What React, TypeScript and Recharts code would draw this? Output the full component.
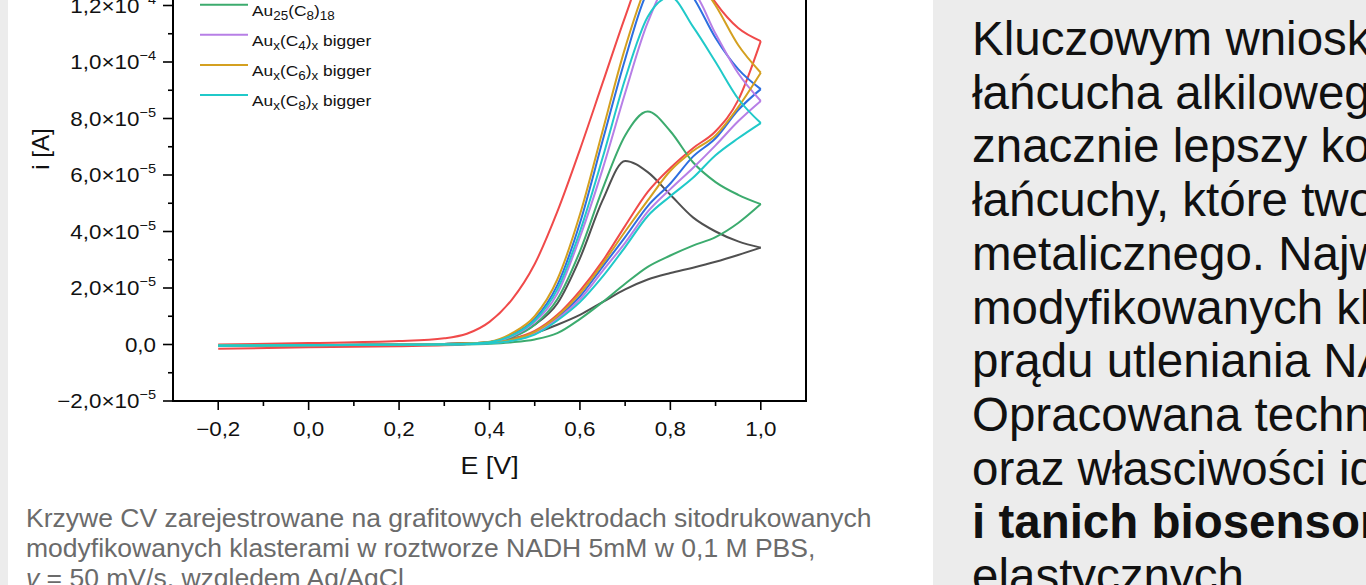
import React from "react";
import { LineChart, Line, XAxis, YAxis, ReferenceArea } from "recharts";

const potentials = [-0.2, 0, 0.2, 0.3, 0.35, 0.4, 0.45, 0.5, 0.55, 0.6, 0.65, 0.7, 0.75, 0.8, 0.85, 0.9, 0.95, 1.0];

// current [µA], anodic sweep (Fwd) and return sweep (Rev)
const speFwd = [-0.4, -0.2, 0, 0.2, 0.4, 0.8, 2.8, 7, 14.5, 30.5, 51, 65, 61, 53, 45, 40, 36.5, 34.3];
const speRev = [-0.5, -0.3, 0, 0.2, 0.4, 0.8, 2, 4, 7, 10.5, 15, 19.5, 23, 25.3, 27.2, 29.3, 31.7, 34.3];
const c4Fwd = [0, 0.5, 1.2, 2.2, 3.8, 8, 16, 28.5, 47, 69, 92.5, 116, 137, 145, 134, 121, 112, 107.4];
const c4Rev = [-1.5, -1, -0.6, -0.3, 0.1, 0.7, 2, 4.8, 10.5, 19, 29.5, 42, 54, 62.5, 69.5, 75.5, 86.5, 107.4];
const c6Fwd = [-0.3, -0.2, 0, 0.1, 0.3, 0.8, 3.5, 9, 21, 43, 72, 101, 125, 132, 123, 108.5, 97.5, 90.4];
const c6Rev = [-0.5, -0.3, -0.1, 0, 0.2, 0.5, 1.6, 4.3, 9.5, 17, 27.5, 38, 49, 57, 66.5, 73, 83, 90.4];
const c8Fwd = [-0.3, -0.2, 0, 0.1, 0.3, 0.7, 2.5, 7, 16, 33, 55, 74, 82.5, 75.5, 64.5, 57.5, 53, 49.7];
const c8Rev = [-0.5, -0.3, 0, 0, 0.1, 0.3, 0.8, 1.8, 4, 9, 15, 21.5, 27.5, 31.5, 35, 38, 43, 49.7];
const bigC4Fwd = [-0.3, -0.2, 0, 0.1, 0.3, 0.7, 3, 8, 18, 38, 62, 89, 114, 128, 125, 110, 96, 86.2];
const bigC4Rev = [-0.5, -0.3, -0.1, 0, 0.2, 0.5, 1.4, 4, 9, 16, 26, 36, 47, 55, 62.5, 70.5, 79, 86.2];
const bigC6Fwd = [-0.3, -0.2, 0, 0.1, 0.4, 1, 4, 10, 23, 46, 75.5, 105, 128, 137, 131, 120, 106, 96.2];
const bigC6Rev = [-0.5, -0.3, -0.1, 0, 0.2, 0.6, 1.7, 4.5, 10, 18, 28.5, 40, 51, 61.5, 68.5, 74, 84, 96.2];
const bigC8Fwd = [-0.3, -0.2, 0, 0.1, 0.3, 0.8, 3.2, 8.5, 19.5, 40, 66, 94, 116, 123, 112.5, 100, 87, 78.4];
const bigC8Rev = [-0.5, -0.3, -0.1, 0, 0.1, 0.4, 1.3, 3.5, 8.5, 15, 24, 34.5, 45.5, 52.5, 59, 67, 73, 78.4];

const seriesNames = [
  "SPE",
  "Au_{25}(C_{4})_{18}",
  "Au_{25}(C_{6})_{18}",
  "Au_{25}(C_{8})_{18}",
  "Au_{x}(C_{4})_{x} bigger",
  "Au_{x}(C_{6})_{x} bigger",
  "Au_{x}(C_{8})_{x} bigger",
];
const seriesColors = ["#505050", "#f04a4a", "#2d6fe0", "#3cab6e", "#b77fe6", "#d4a020", "#20c9c9"];
const forward = [speFwd, c4Fwd, c6Fwd, c8Fwd, bigC4Fwd, bigC6Fwd, bigC8Fwd];
const reverse = [speRev, c4Rev, c6Rev, c8Rev, bigC4Rev, bigC6Rev, bigC8Rev];

const xTicks = [-0.2, -0.1, 0, 0.1, 0.2, 0.3, 0.4, 0.5, 0.6, 0.7, 0.8, 0.9, 1.0];
const yTicks = [-20, -10, 0, 10, 20, 30, 40, 50, 60, 70, 80, 90, 100, 110, 120, 130, 140, 150, 160];

const captionLines = [
  "Krzywe CV zarejestrowane na grafitowych elektrodach sitodrukowanych",
  "modyfikowanych klasterami w roztworze NADH 5mM w 0,1 M PBS,",
];
const panelLines = [
  "Kluczowym wnioskiem",
  "łańcucha alkilowego",
  "znacznie lepszy kontakt",
  "łańcuchy, które tworzą",
  "metalicznego. Najwyższe",
  "modyfikowanych klasterami",
  "prądu utleniania NADH.",
  "Opracowana technologia",
  "oraz własciwości idealne",
];

const FONT = '"Liberation Sans", Arial, sans-serif';
const STRETCH = 1.12;
const CHART_TOP = -160;

const rows = potentials.map((E, k) => {
  const row: Record<string, number> = { E };
  forward.forEach((arr, s) => {
    row[`s${s}f`] = arr[k];
    row[`s${s}r`] = reverse[s][k];
  });
  return row;
});

const fmtX = (v: number) => v.toFixed(1).replace(".", ",").replace("-", "\u2212");

function XTick(props: any) {
  const { x, y, payload } = props;
  const v = payload.value as number;
  const major = Math.round(v * 10) % 2 === 0;
  return (
    <g>
      <line x1={x} x2={x} y1={y} y2={y + (major ? 9 : 5)} stroke="#000" strokeWidth={1.6} />
      {major && (
        <text transform={`translate(${x},${y + 35}) scale(${STRETCH},1)`} textAnchor="middle" fontSize={20} fontFamily={FONT} fill="#111">
          {fmtX(v)}
        </text>
      )}
    </g>
  );
}

function YTick(props: any) {
  const { x, y, payload } = props;
  const v = payload.value as number;
  const major = v % 20 === 0;
  let mant = "0,0";
  let exp = "";
  if (v !== 0) {
    const big = Math.abs(v) >= 100;
    mant = (v / (big ? 100 : 10)).toFixed(1).replace(".", ",").replace("-", "\u2212");
    exp = big ? "\u22124" : "\u22125";
  }
  return (
    <g>
      <line x1={x} x2={x - (major ? 10 : 5)} y1={y} y2={y} stroke="#000" strokeWidth={1.6} />
      {major && (
        <text transform={`translate(${x - 17},${y + 7}) scale(${STRETCH},1)`} textAnchor="end" fontSize={20} fontFamily={FONT} fill="#111">
          {exp ? (
            <>
              <tspan>{mant}×10</tspan>
              <tspan fontSize={13} dy={-9}>{exp}</tspan>
            </>
          ) : (
            mant
          )}
        </text>
      )}
    </g>
  );
}

function subParts(label: string) {
  const parts = label.split(/_\{([^}]*)\}/);
  let low = false;
  return parts.map((p, i) => {
    const sub = i % 2 === 1;
    const dy = sub === low ? 0 : sub ? 4 : -4;
    low = sub;
    return (
      <tspan key={i} dy={dy} fontSize={sub ? 12 : 15.5}>
        {p}
      </tspan>
    );
  });
}

function LegendBox() {
  return (
    <svg width={920} height={130} style={{ position: "absolute", left: 0, top: 0, pointerEvents: "none" }}>
      {seriesNames.map((name, i) => {
        const ly = 4.7 + (i - 3) * 30.1;
        return (
          <g key={name}>
            <line x1={200} x2={248} y1={ly} y2={ly} stroke={seriesColors[i]} strokeWidth={2} />
            <text transform={`translate(252,${ly + 11}) scale(${STRETCH},1)`} fontFamily={FONT} fill="#111">
              {subParts(name)}
            </text>
          </g>
        );
      })}
    </svg>
  );
}

export default function App() {
  return (
    <div style={{ position: "fixed", left: 0, top: 0, width: 1366, height: 585, overflow: "hidden", background: "#ececec", fontFamily: FONT }}>
      <div style={{ position: "absolute", left: 8, top: 0, width: 925, height: 585, background: "#fff" }} />
      <div style={{ position: "absolute", left: 0, top: CHART_TOP }}>
        <LineChart width={920} height={745} data={rows} margin={{ top: 52.5, right: 114, bottom: 84, left: 0 }}>
          <XAxis
            dataKey="E"
            type="number"
            domain={[-0.3, 1.1]}
            ticks={xTicks}
            interval={0}
            allowDataOverflow
            height={100}
            tickSize={0}
            tickMargin={0}
            tickLine={false}
            tick={<XTick />}
            axisLine={{ stroke: "#000", strokeWidth: 2 }}
            label={() => (
              <text transform={`translate(489.5,634) scale(${STRETCH},1)`} textAnchor="middle" fontSize={24} fontFamily={FONT} fill="#111">
                E [V]
              </text>
            )}
          />
          <YAxis
            type="number"
            domain={[-20, 160]}
            ticks={yTicks}
            interval={0}
            allowDataOverflow
            width={173}
            tickSize={0}
            tickMargin={0}
            tickLine={false}
            tick={<YTick />}
            axisLine={{ stroke: "#000", strokeWidth: 2 }}
            label={() => (
              <text transform="translate(49,309) rotate(-90)" textAnchor="middle" fontSize={24} fontFamily={FONT} fill="#111">
                i [A]
              </text>
            )}
          />
          <ReferenceArea x1={-0.3} x2={1.1} y1={-20} y2={160} fill="none" stroke="#000" strokeWidth={2} ifOverflow="visible" />
          {seriesColors.map((color, s) => [
            <Line key={`s${s}f`} dataKey={`s${s}f`} type="monotone" stroke={color} strokeWidth={2} dot={false} isAnimationActive={false} />,
            <Line key={`s${s}r`} dataKey={`s${s}r`} type="monotone" stroke={color} strokeWidth={2} dot={false} isAnimationActive={false} />,
          ])}
        </LineChart>
      </div>
      <LegendBox />
      <div style={{ position: "absolute", left: 26, top: 503, fontSize: 26.5, lineHeight: "30px", color: "#6b6b6b", whiteSpace: "nowrap" }}>
        {captionLines.map((l) => (
          <div key={l}>{l}</div>
        ))}
        <div>
          <i>v</i> = 50 mV/s, względem Ag/AgCl
        </div>
      </div>
      <div style={{ position: "absolute", left: 972, top: 12, fontSize: 47.5, lineHeight: "53.7px", color: "#111", whiteSpace: "nowrap" }}>
        {panelLines.map((l) => (
          <div key={l}>{l}</div>
        ))}
        <div style={{ fontWeight: 700 }}>i tanich biosensorów</div>
        <div>elastycznych</div>
      </div>
    </div>
  );
}
